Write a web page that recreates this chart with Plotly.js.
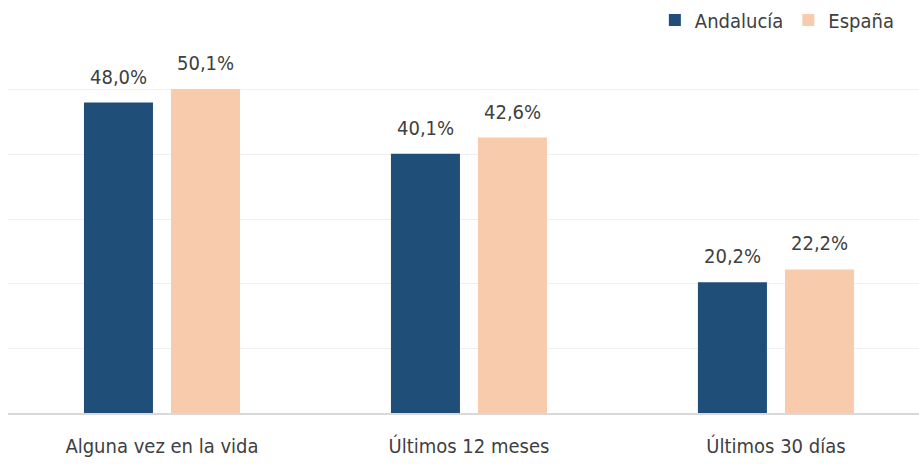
<!DOCTYPE html>
<html><head><meta charset="utf-8">
<script src="https://cdn.plot.ly/plotly-3.0.1.min.js"></script>
<style>html,body{margin:0;padding:0;background:#fff}</style>
</head><body><div id="chart" style="width:919px;height:464px"></div>
<script>
const categories = ["Alguna vez en la vida", "Últimos 12 meses", "Últimos 30 días"];
const andalucia = [48.0, 40.1, 20.2];
const espana = [50.1, 42.6, 22.2];
const seriesNames = ["Andalucía", "España"];
const colors = ["#1F4E79", "#F8CBAD"];
const FONT = "'DejaVu Sans Condensed', 'DejaVu Sans', sans-serif";
const TXT = "#404040";

const series = [andalucia, espana];
const traces = series.map((vals, i) => ({
  type: "bar", x: categories, y: vals, name: seriesNames[i],
  marker: {color: colors[i]},
  hoverinfo: "none"
}));

const fmt = v => v.toFixed(1).replace(".", ",") + "%";
const annotations = [];
series.forEach((vals, i) => {
  vals.forEach((v, j) => {
    annotations.push({
      x: categories[j], y: v, xref: "x", yref: "y",
      text: fmt(v), showarrow: false, yanchor: "bottom",
      xshift: (i === 0 ? -1 : 1) * 43.5, yshift: 12,
      font: {family: FONT, size: 20, color: TXT}
    });
  });
});

const layout = {
  width: 919, height: 464,
  margin: {l: 8, r: 0, t: 25, b: 51},
  barmode: "group", bargap: 0.433, bargroupgap: 0.207,
  paper_bgcolor: "#fff", plot_bgcolor: "#fff",
  font: {family: FONT, size: 18, color: TXT},
  xaxis: {range: [-0.5016, 2.466], showline: true, linecolor: "#d9d9d9", linewidth: 1.5,
          ticks: "", ticklabelstandoff: 14,
          tickfont: {family: FONT, size: 20, color: TXT}, showgrid: false, zeroline: false},
  yaxis: {range: [0, 60], dtick: 10, showticklabels: false, gridcolor: "#efefef", gridwidth: 1,
          zeroline: false, showline: false},
  legend: {orientation: "h", x: 0.979, xanchor: "right", y: 1.013, yanchor: "middle",
           font: {family: FONT, size: 20, color: TXT}, itemwidth: 30, traceorder: "normal"},
  annotations: annotations,
  showlegend: true
};
Plotly.newPlot("chart", traces, layout, {staticPlot: true});
</script></body></html>
